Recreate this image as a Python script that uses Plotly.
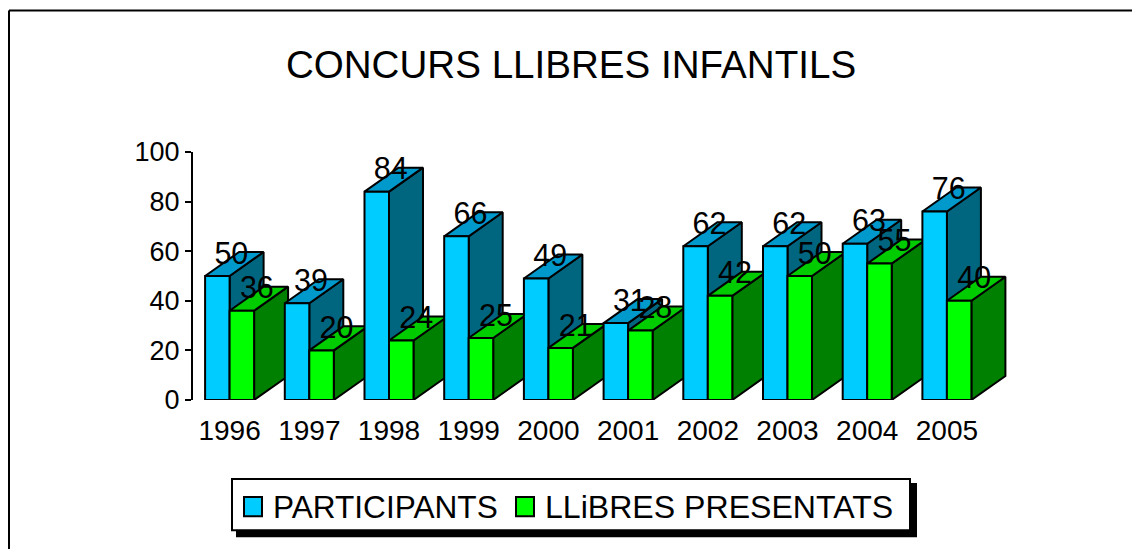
import plotly.graph_objects as go

years = ["1996", "1997", "1998", "1999", "2000", "2001", "2002", "2003", "2004", "2005"]
participants = [50, 39, 84, 66, 49, 31, 62, 62, 63, 76]
llibres = [36, 20, 24, 25, 21, 28, 42, 50, 55, 40]
series_names = ["PARTICIPANTS", "LLiBRES PRESENTATS"]

W, H = 1132, 549
L, R, T, B = 193.0, 1010.0, 152.3, 400.0
STEP = 79.7
X0 = 229.6
XMIN = (L - X0) / STEP
XMAX = (R - X0) / STEP
PX_Y = (B - T) / 100.0
BAR = 24.5 / STEP
DX = 34.0 / STEP
DY = 24.0 / PX_Y
FONT = "Liberation Sans"
LINE = dict(color="black", width=2)
BLUE = ("#00CCFF", "#0099CC", "#006680")
GREEN = ("#00FF00", "#00CC00", "#008000")


def px(x):
    return (x - L) / (R - L)


def py(y):
    return (B - y) / (B - T)


def face(xs, ys, color):
    return go.Scatter(x=xs + xs[:1], y=ys + ys[:1], mode="lines", fill="toself", fillcolor=color,
                      line=LINE, showlegend=False, hoverinfo="skip", cliponaxis=False)


def box(x0, x1, y0, y1, fill, line):
    return dict(type="rect", xref="paper", yref="paper", x0=px(x0), x1=px(x1), y0=py(y0), y1=py(y1),
                fillcolor=fill, line=line, layer="above")


def legend_text(x, text, size):
    return dict(text=text, xref="paper", yref="paper", x=px(x), y=py(506.5), xanchor="left", yanchor="middle",
                showarrow=False, borderpad=0, font=dict(family=FONT, size=size, color="black"))


fig = go.Figure()
for i in range(len(years)):
    for v, x0, cols in ((participants[i], i - BAR, BLUE), (llibres[i], i, GREEN)):
        x1 = x0 + BAR
        fig.add_trace(face([x1, x1 + DX, x1 + DX, x1], [0, DY, v + DY, v], cols[2]))
        fig.add_trace(face([x0, x1, x1 + DX, x0 + DX], [v, v, v + DY, v + DY], cols[1]))
        fig.add_trace(face([x0, x1, x1, x0], [0, 0, v, v], cols[0]))

LAB_DX = 14.0 / STEP
LAB_DX2 = 15.0 / STEP
LAB_DY = 20.0 / PX_Y
fig.add_trace(go.Scatter(
    x=[i - BAR / 2 + LAB_DX for i in range(len(years))] + [i + BAR / 2 + LAB_DX2 for i in range(len(years))],
    y=[v + LAB_DY for v in participants] + [v + LAB_DY for v in llibres],
    text=[str(v) for v in participants] + [str(v) for v in llibres],
    mode="text", textposition="middle center", textfont=dict(family=FONT, size=30.5, color="black"),
    showlegend=False, hoverinfo="skip", cliponaxis=False))

thin = dict(width=0)
border = dict(color="black", width=2)
fig.update_layout(
    width=W, height=H, autosize=False, paper_bgcolor="white", plot_bgcolor="white", showlegend=False,
    margin=dict(l=L, r=W - R, t=T, b=H - B),
    title=dict(text="CONCURS LLIBRES INFANTILS", font=dict(family=FONT, size=38.6, color="black"),
               x=571 / W, xanchor="center", y=1 - 64 / H, yanchor="middle"),
    xaxis=dict(range=[XMIN, XMAX], tickmode="array", tickvals=list(range(len(years))), ticktext=years,
               showgrid=False, zeroline=False, showline=False, ticks="outside", ticklen=5,
               tickcolor="rgba(0,0,0,0)", tickfont=dict(family=FONT, size=28, color="black")),
    yaxis=dict(range=[0, 100], tickvals=[0, 20, 40, 60, 80, 100], showgrid=False, zeroline=False,
               showline=True, linecolor="black", linewidth=2, ticks="outside", ticklen=6, tickwidth=2,
               tickcolor="black", tickfont=dict(family=FONT, size=27, color="black")),
    shapes=[
        box(236, 917, 483, 537, "black", thin),
        box(232, 910, 479, 530, "white", border),
        box(244, 262, 497, 516, BLUE[0], border),
        box(516, 534, 497, 516, GREEN[0], border),
        dict(type="line", xref="paper", yref="paper", x0=px(9), x1=px(9), y0=py(11), y1=py(549),
             line=border),
        dict(type="line", xref="paper", yref="paper", x0=px(9), x1=px(1132), y0=py(11), y1=py(11),
             line=border),
    ],
    annotations=[legend_text(272, series_names[0], 31.6), legend_text(544, series_names[1], 32.1)],
)
fig.write_html("out.html", config=dict(displayModeBar=False),
               post_script="document.body.style.margin='0';document.body.style.overflow='hidden';")
